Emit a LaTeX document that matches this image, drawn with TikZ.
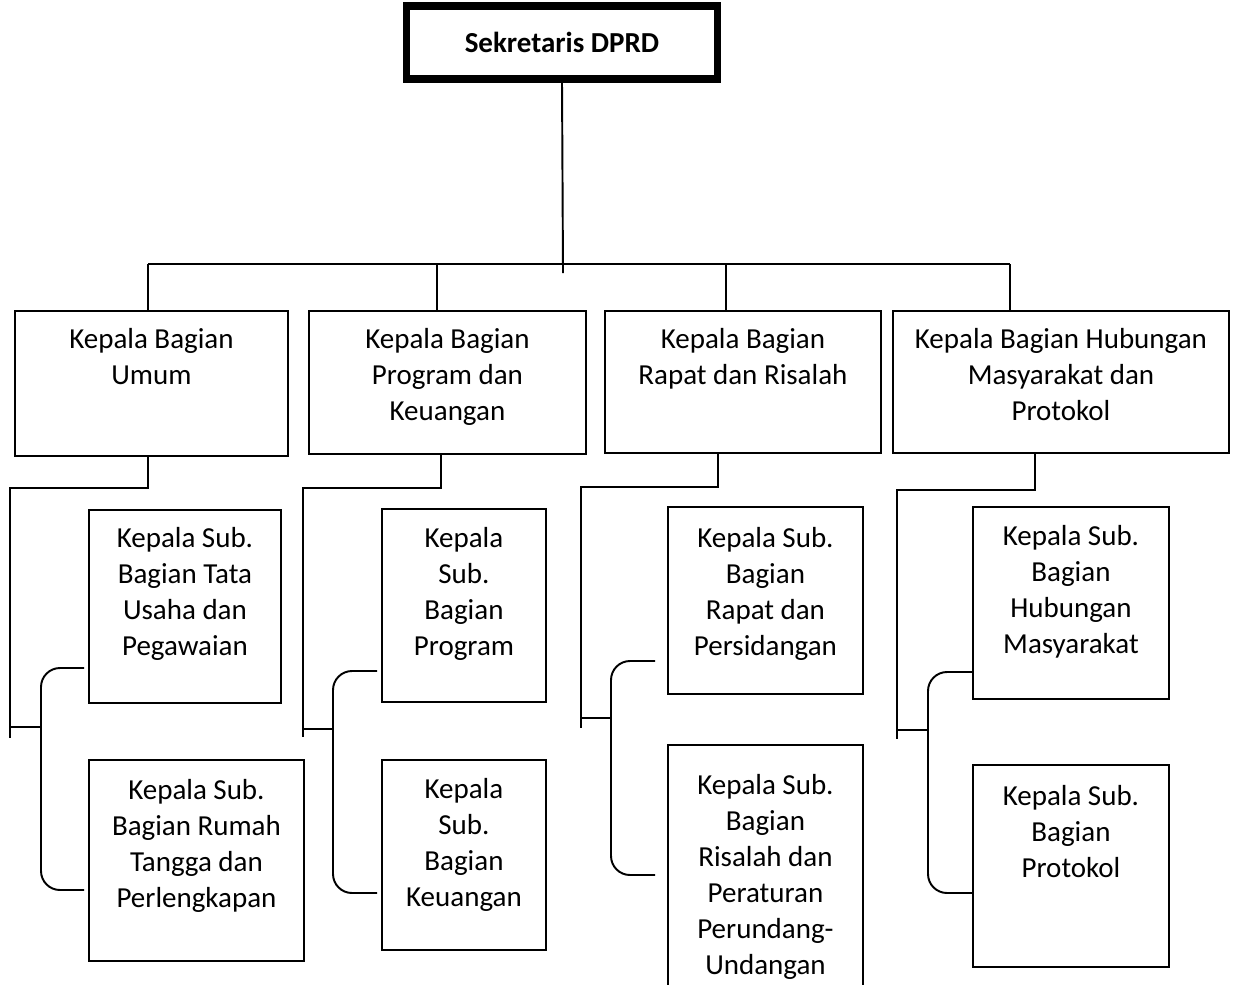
\documentclass[tikz,border=0pt]{standalone}
\usepackage{fontspec}
\setmainfont{Carlito}
\usetikzlibrary{positioning}

\tikzstyle{unit}=[draw, line width=1.1pt, inner sep=0pt, anchor=north west]
\tikzstyle{head}=[draw, line width=4pt, inner sep=0pt, font=\bfseries\fontsize{16.5}{20.5}\selectfont]
\tikzstyle{txt}=[align=center, inner sep=0pt, anchor=north, font=\fontsize{16.5}{20.5}\selectfont]
\tikzstyle{link}=[line width=1.1pt]
\tikzstyle{brace}=[line width=1.1pt, rounded corners=0.38cm]

\begin{document}
\begin{tikzpicture}[x=0.02cm, y=-0.02cm]
        \clip (0,0) rectangle (1233,984);

        % kepala
        \node[head, minimum width=6.24cm, minimum height=1.46cm] (sek) at (562,42.5) {Sekretaris DPRD};

        % bagian
        \node[unit, minimum width=5.46cm, minimum height=2.90cm] (kb1) at (14,310)  {};
        \node[unit, minimum width=5.54cm, minimum height=2.86cm] (kb2) at (308,310) {};
        \node[unit, minimum width=5.52cm, minimum height=2.84cm] (kb3) at (604,310) {};
        \node[unit, minimum width=6.72cm, minimum height=2.84cm] (kb4) at (892,310) {};
        \node[txt, below=0.36cm of kb1.north] (tkb1) {Kepala Bagian\\Umum};
        \node[txt, below=0.36cm of kb2.north] (tkb2) {Kepala Bagian\\Program dan\\Keuangan};
        \node[txt, below=0.36cm of kb3.north] (tkb3) {Kepala Bagian\\Rapat dan Risalah};
        \node[txt, below=0.36cm of kb4.north] (tkb4) {Kepala Bagian Hubungan\\Masyarakat dan\\Protokol};

        % sub bagian
        \node[unit, minimum width=3.84cm, minimum height=3.86cm] (sb11) at (88,509)  {};
        \node[unit, minimum width=4.30cm, minimum height=4.02cm] (sb12) at (88,759)  {};
        \node[unit, minimum width=3.28cm, minimum height=3.86cm] (sb21) at (381,508) {};
        \node[unit, minimum width=3.28cm, minimum height=3.80cm] (sb22) at (381,759) {};
        \node[unit, minimum width=3.90cm, minimum height=3.74cm] (sb31) at (667,506) {};
        \node[unit, minimum width=3.90cm, minimum height=5.20cm] (sb32) at (667,744) {};
        \node[unit, minimum width=3.92cm, minimum height=3.84cm] (sb41) at (972,506) {};
        \node[unit, minimum width=3.92cm, minimum height=4.04cm] (sb42) at (972,764) {};
        \node[txt, below=0.36cm of sb11.north] (tsb11) {Kepala Sub.\\Bagian Tata\\Usaha dan\\Pegawaian};
        \node[txt, below=0.40cm of sb12.north] (tsb12) {Kepala Sub.\\Bagian Rumah\\Tangga dan\\Perlengkapan};
        \node[txt, below=0.38cm of sb21.north] (tsb21) {Kepala\\Sub.\\Bagian\\Program};
        \node[txt, below=0.38cm of sb22.north] (tsb22) {Kepala\\Sub.\\Bagian\\Keuangan};
        \node[txt, below=0.42cm of sb31.north] (tsb31) {Kepala Sub.\\Bagian\\Rapat dan\\Persidangan};
        \node[txt, below=0.60cm of sb32.north] (tsb32) {Kepala Sub.\\Bagian\\Risalah dan\\Peraturan\\Perundang-\\Undangan};
        \node[txt, below=0.38cm of sb41.north] (tsb41) {Kepala Sub.\\Bagian\\Hubungan\\Masyarakat};
        \node[txt, below=0.42cm of sb42.north] (tsb42) {Kepala Sub.\\Bagian\\Protokol};

        % garis ke bagian
        \coordinate (stem) at (563,273);
        \coordinate (bus1) at (148,264);
        \coordinate (bus2) at (437,264);
        \coordinate (bus3) at (726,264);
        \coordinate (bus4) at (1010,264);
        \draw[link] (sek.south) -- (stem);
        \draw[link] (bus1) -- (bus4);
        \draw[link] (bus1) -- (bus1 |- kb1.north);
        \draw[link] (bus2) -- (bus2 |- kb2.north);
        \draw[link] (bus3) -- (bus3 |- kb3.north);
        \draw[link] (bus4) -- (bus4 |- kb4.north);

        % garis ke sub bagian
        \coordinate (el1) at (148,488);  \coordinate (tr1) at (10,488);  \coordinate (tb1) at (10,738);
        \coordinate (el2) at (441,488);  \coordinate (tr2) at (303,488); \coordinate (tb2) at (303,737);
        \coordinate (el3) at (718,487);  \coordinate (tr3) at (581,487); \coordinate (tb3) at (581,728);
        \coordinate (el4) at (1035,490); \coordinate (tr4) at (897,490); \coordinate (tb4) at (897,739);
        \draw[link] (el1 |- kb1.south) -- (el1) -- (tr1) -- (tb1);
        \draw[link] (el2 |- kb2.south) -- (el2) -- (tr2) -- (tb2);
        \draw[link] (el3 |- kb3.south) -- (el3) -- (tr3) -- (tb3);
        \draw[link] (el4 |- kb4.south) -- (el4) -- (tr4) -- (tb4);

        \coordinate (br1) at (41,727);  \coordinate (up1) at (84,668);  \coordinate (dn1) at (84,890);
        \coordinate (br2) at (333,729); \coordinate (up2) at (377,671); \coordinate (dn2) at (377,893);
        \coordinate (br3) at (611,718); \coordinate (up3) at (655,661); \coordinate (dn3) at (655,875);
        \coordinate (br4) at (928,730); \coordinate (up4) at (972,672); \coordinate (dn4) at (972,893);
        \draw[link] (tr1 |- br1) -- (br1);
        \draw[link] (tr2 |- br2) -- (br2);
        \draw[link] (tr3 |- br3) -- (br3);
        \draw[link] (tr4 |- br4) -- (br4);
        \draw[brace] (up1) -- (br1 |- up1) -- (br1 |- dn1) -- (dn1);
        \draw[brace] (up2) -- (br2 |- up2) -- (br2 |- dn2) -- (dn2);
        \draw[brace] (up3) -- (br3 |- up3) -- (br3 |- dn3) -- (dn3);
        \draw[brace] (up4) -- (br4 |- up4) -- (br4 |- dn4) -- (dn4);
\end{tikzpicture}
\end{document}
